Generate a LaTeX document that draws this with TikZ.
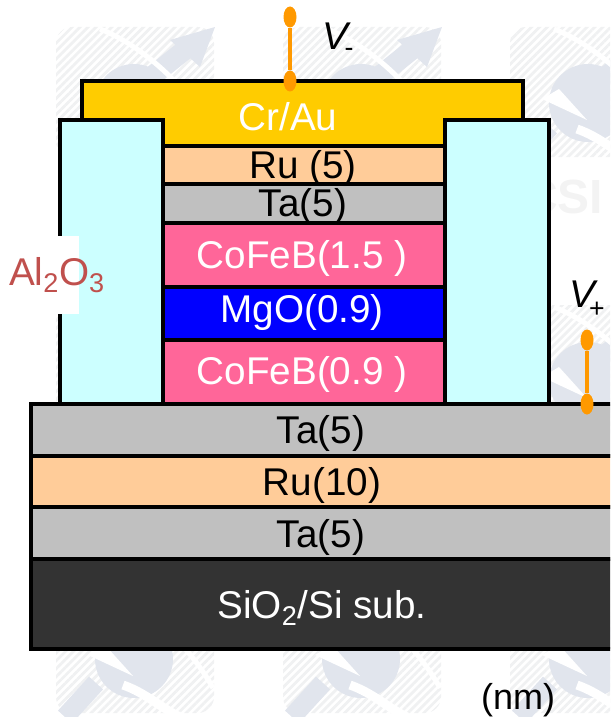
\documentclass[tikz,border=0pt]{standalone}
\usepackage{fontspec}
\setmainfont{Liberation Sans}
\usetikzlibrary{shapes.geometric,patterns.meta}
\definecolor{gold}{HTML}{FFCC00}
\definecolor{rufill}{HTML}{FFCC99}
\definecolor{tafill}{HTML}{C0C0C0}
\definecolor{cofeb}{HTML}{FF6699}
\definecolor{mgo}{HTML}{0000FF}
\definecolor{subfill}{HTML}{333333}
\definecolor{alox}{HTML}{CCFFFF}
\definecolor{aloxtext}{HTML}{C0504D}
\definecolor{leadorange}{HTML}{FF9900}
\definecolor{markgray}{HTML}{F0F1F2}
\definecolor{markblue}{HTML}{E1E5ED}
\definecolor{marktext}{HTML}{F3F3F3}
\newcommand{\px}{0.75pt}

\begin{document}
\begin{tikzpicture}[x=0.75pt,y=-0.75pt,
  layer/.style={draw=black,line width=3.4*\px},
  blk/.style={font=\fontsize{29}{33}\selectfont,inner sep=0pt,text=black},
  wht/.style={blk,text=white},
  lead/.style={ellipse,fill=leadorange,minimum width=13*\px,minimum height=21*\px,inner sep=0pt},
  wire/.style={draw=leadorange,line width=3.6*\px},
  volt/.style={font=\fontsize{29}{33}\selectfont\itshape,inner sep=0pt},
  voltsub/.style={font=\fontsize{20}{22}\selectfont,inner sep=0pt,text=black}]
\useasboundingbox (0,0) rectangle (610,717);
\clip (0,0) rectangle (610,717);

% faint background tiles
\foreach \cx in {56,283,510}
  \foreach \cy in {27,305,583} {
    \begin{scope}[shift={(\cx,\cy)}]
    \fill[pattern={Lines[angle=45,distance=4.2pt,line width=2.1pt]},pattern color=markgray,rounded corners=12pt]
      (0,0) rectangle (158,130);
    \draw[markblue,line width=19*\px] (9,134)--(40,100);
    \fill[markblue] (78,76) circle (39);
    \draw[markblue,line width=20*\px] (95,50)--(130,22);
    \fill[markblue] (114,13)--(159,0)--(144,40)--cycle;
    \fill[white] (32,72)--(77,93)--(49,62)--cycle;
    \draw[white,line width=5*\px] (44,2) .. controls (90,20) and (135,65) .. (157,105);
    \draw[white,line width=9*\px] (67,102) .. controls (90,110) and (105,125) .. (124,134);
    \end{scope}
  }
\node[font=\fontsize{36}{40}\selectfont\bfseries,text=marktext,inner sep=0pt,anchor=west] (csitext) at (523,197) {CSI};

% top electrode, stack and side walls
\draw[layer,fill=gold] (82,135)--(82,81)--(523,81)--(523,135)--(445,135)--(445,146)--(163,146)--(163,135)--cycle;
\draw[layer,fill=rufill] (163,146) rectangle (445,184);
\draw[layer,fill=tafill] (163,184) rectangle (445,223);
\draw[layer,fill=cofeb] (163,223) rectangle (445,287);
\draw[layer,fill=mgo] (163,287) rectangle (445,340);
\draw[layer,fill=cofeb] (163,340) rectangle (445,404);
\draw[layer,fill=alox] (60,120) rectangle (163,404);
\draw[layer,fill=alox] (445,120) rectangle (549,404);

% bottom layers
\draw[layer,fill=tafill] (31,404) rectangle (613,456);
\draw[layer,fill=rufill] (31,456) rectangle (613,507);
\draw[layer,fill=tafill] (31,507) rectangle (613,559);
\draw[layer,fill=subfill] (31,559) rectangle (613,649);
\fill[white] (0,236) rectangle (79,314);

\node[wht] (crau) at (288,117) {Cr/Au};
\node[blk] (rutop) at (303,168) {Ru (5)};
\node[blk] (tatop) at (303,206) {Ta(5)};
\node[wht] (cofebtop) at (302,258) {CoFeB(1.5 )};
\node[wht] (mgolab) at (302,312) {MgO(0.9)};
\node[wht] (cofebbot) at (302,374) {CoFeB(0.9 )};
\node[blk] (talow) at (321,433) {Ta(5)};
\node[blk] (rulow) at (322,485) {Ru(10)};
\node[blk] (tasub) at (321,537) {Ta(5)};
\node[wht] (sublab) at (322,608) {SiO\textsubscript{2}/Si sub.};
\node[blk,text=aloxtext] (aloxlab) at (57,275) {Al\textsubscript{2}O\textsubscript{3}};
\node[blk,font=\fontsize{27}{31}\selectfont] (unit) at (518,700) {(nm)};

% voltage leads
\node[lead] (vmtop) at (290,17) {};
\node[lead] (vmfoot) at (290,81) {};
\draw[wire] (vmtop)--(vmfoot);
\node[lead] (vptop) at (587,340) {};
\node[lead] (vpfoot) at (587,404) {};
\draw[wire] (vptop)--(vpfoot);
\node[volt] (vmlab) at (335,36) {V};
\node[voltsub] (vmsub) at (349,52) {-};
\node[volt] (vplab) at (582,294) {V};
\node[voltsub] (vpsub) at (597,310) {+};
\end{tikzpicture}
\end{document}
